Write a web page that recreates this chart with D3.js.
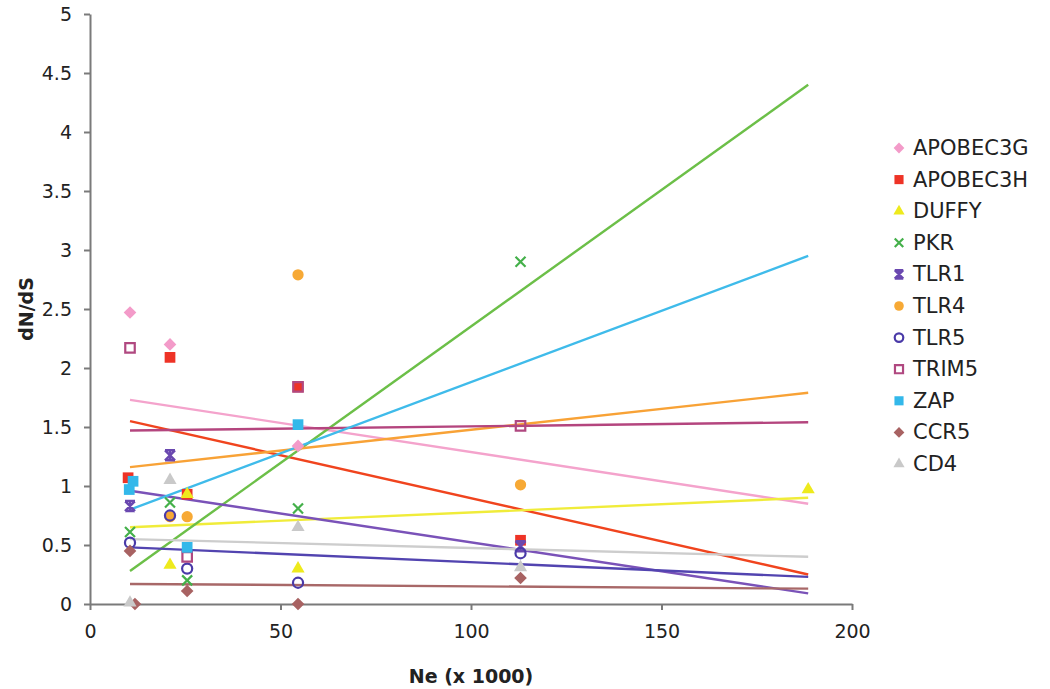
<!DOCTYPE html>
<html><head><meta charset="utf-8">
<script src="https://cdn.jsdelivr.net/npm/d3@7"></script>
<style>body{margin:0;background:#fff;} text{font-family:"DejaVu Sans",Verdana,sans-serif;fill:#222;}</style>
</head><body><svg id="c" width="1050" height="689"></svg>
<script>
// Series names (legend order)
const seriesNames = ["APOBEC3G","APOBEC3H","DUFFY","PKR","TLR1","TLR4","TLR5","TRIM5","ZAP","CCR5","CD4"];
// Data points [Ne (x1000), dN/dS]
const APOBEC3G = [[10.5,2.47],[21,2.20],[54.6,1.34]];
const APOBEC3H = [[10,1.07],[21,2.09],[25.5,0.93],[54.6,1.84],[113,0.54]];
const DUFFY    = [[21,0.33],[25.5,0.93],[54.6,0.30],[188.5,0.97]];
const PKR      = [[10.5,0.61],[21,0.86],[25.5,0.20],[54.6,0.81],[113,2.90]];
const TLR1     = [[10.5,0.83],[21,1.26],[113,0.49]];
const TLR4     = [[21,0.74],[25.5,0.74],[54.6,2.79],[113,1.01]];
const TLR5     = [[10.5,0.52],[21,0.75],[25.5,0.30],[54.6,0.18],[113,0.43]];
const TRIM5    = [[10.5,2.17],[25.5,0.40],[54.6,1.84],[113,1.51]];
const ZAP      = [[10.3,0.97],[11.3,1.04],[25.5,0.48],[54.6,1.52]];
const CCR5     = [[10.5,0.45],[11.8,0.0],[25.5,0.11],[54.6,0.0],[113,0.22]];
const CD4      = [[10.5,0.01],[21,1.05],[54.6,0.65],[113,0.31]];
// Trend lines: [dN/dS at start, dN/dS at end]
const trendX = [10.5, 188.5];
const trendAPOBEC3G = [1.73,0.85];
const trendAPOBEC3H = [1.55,0.25];
const trendDUFFY    = [0.65,0.90];
const trendPKR      = [0.28,4.40];
const trendTLR1     = [0.96,0.09];
const trendTLR4     = [1.16,1.79];
const trendTLR5     = [0.48,0.23];
const trendTRIM5    = [1.47,1.54];
const trendZAP      = [0.80,2.95];
const trendCCR5     = [0.17,0.13];
const trendCD4      = [0.55,0.40];
const yTicks = [0,0.5,1,1.5,2,2.5,3,3.5,4,4.5,5];
const xTicks = [0,50,100,150,200];

const points = [APOBEC3G,APOBEC3H,DUFFY,PKR,TLR1,TLR4,TLR5,TRIM5,ZAP,CCR5,CD4];
const trends = [trendAPOBEC3G,trendAPOBEC3H,trendDUFFY,trendPKR,trendTLR1,trendTLR4,trendTLR5,trendTRIM5,trendZAP,trendCCR5,trendCD4];
const style = [
  {m:"diamond", fill:"#f39bc9", stroke:"none", line:"#f4a3cc"},
  {m:"square", fill:"#ee3326", stroke:"none", line:"#f0441e"},
  {m:"triangle", fill:"#eeea1c", stroke:"none", line:"#f0ec3a"},
  {m:"x", fill:"none", stroke:"#44b04a", line:"#6cbf48"},
  {m:"star", fill:"none", stroke:"#6a48b0", line:"#7a52b8"},
  {m:"circle", fill:"#f7a935", stroke:"none", line:"#f8a236"},
  {m:"circle", fill:"none", stroke:"#4a3aa8", line:"#5244b0", open:true},
  {m:"square", fill:"none", stroke:"#b04880", line:"#b4457e", open:true},
  {m:"square", fill:"#33b8ea", stroke:"none", line:"#3fbbea"},
  {m:"diamond", fill:"#a86262", stroke:"none", line:"#a86868"},
  {m:"triangle", fill:"#c9c9c9", stroke:"none", line:"#cdcdcd"}
];

const svg = d3.select("#c");
const x = d3.scaleLinear().domain([0,200]).range([90,852]);
const y = d3.scaleLinear().domain([0,5]).range([604,14]);

// axes
const ya = svg.append("g").attr("transform","translate(90,0)")
  .call(d3.axisLeft(y).tickValues(yTicks).tickSize(6).tickSizeOuter(0).tickPadding(12).tickFormat(d3.format("~g")));
const xa = svg.append("g").attr("transform","translate(0,604)")
  .call(d3.axisBottom(x).tickValues(xTicks).tickSize(6).tickSizeOuter(0).tickPadding(15).tickFormat(d3.format("~g")));
[ya,xa].forEach(g=>{
  g.select(".domain").attr("stroke","#7a7a7a").attr("stroke-width",2);
  g.selectAll(".tick line").attr("stroke","#7a7a7a").attr("stroke-width",2);
  g.selectAll(".tick text").attr("font-size",19).attr("fill","#222").style("font-family","'DejaVu Sans',Verdana,sans-serif");
});

svg.append("text").attr("transform","translate(26,309) rotate(-90)").attr("text-anchor","middle")
  .attr("dominant-baseline","central").attr("font-size",19).attr("font-weight","bold").text("dN/dS");
svg.append("text").attr("x",471).attr("y",676).attr("text-anchor","middle")
  .attr("dominant-baseline","central").attr("font-size",19).attr("font-weight","bold").text("Ne (x 1000)");

function marker(g, s, scale){
  scale = scale||1;
  if(s.m==="x"){
    const r=5*scale;
    g.append("path").attr("d",`M${-r},${-r}L${r},${r}M${r},${-r}L${-r},${r}`)
      .attr("stroke",s.stroke).attr("stroke-width",2.2).attr("fill","none");
  } else if(s.m==="star"){
    const r=5*scale;
    g.append("path").attr("d",`M${-r},${-r}L${r},${r}M${r},${-r}L${-r},${r}M${-r},${-r}L${r},${-r}M${-r},${r}L${r},${r}M0,${-r}L0,${r}`)
      .attr("stroke",s.stroke).attr("stroke-width",2.4).attr("fill","none");
  } else {
    let sym, size, rot=0;
    if(s.m==="diamond"){sym=d3.symbolSquare; size=80; rot=45;}
    else if(s.m==="square"){sym=d3.symbolSquare; size=s.open?90:115;}
    else if(s.m==="triangle"){sym=d3.symbolTriangle; size=75;}
    else {sym=d3.symbolCircle; size=s.open?80:100;}
    g.append("path").attr("d",d3.symbol(sym,size*scale*scale)()).attr("transform",`rotate(${rot})`)
      .attr("fill",s.fill).attr("stroke",s.open?s.stroke:"none").attr("stroke-width",s.open?2.2:0);
  }
}

// trend lines
const line = d3.line().x(d=>x(d[0])).y(d=>y(d[1]));
trends.forEach((t,i)=>{
  svg.append("path").attr("d",line([[trendX[0],t[0]],[trendX[1],t[1]]]))
    .attr("stroke",style[i].line).attr("stroke-width",2.4).attr("fill","none");
});
// markers
points.forEach((pts,i)=>{
  pts.forEach(p=>{
    const g = svg.append("g").attr("transform",`translate(${x(p[0])},${y(p[1])})`);
    marker(g, style[i]);
  });
});

// legend
seriesNames.forEach((n,i)=>{
  const cy = 148 + i*31.6;
  const g = svg.append("g").attr("transform",`translate(899,${cy})`);
  marker(g, style[i], 0.85);
  svg.append("text").attr("x",913).attr("y",cy).attr("dominant-baseline","central")
    .attr("font-size",21).text(n);
});
</script></body></html>
